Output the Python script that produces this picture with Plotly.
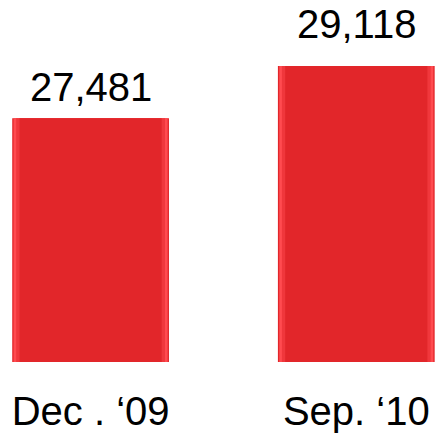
import plotly.graph_objects as go

categories = ["Dec . \u201809", "Sep. \u201810"]
values = [27481, 29118]
value_labels = ["27,481", "29,118"]

BAR_COLOR = "#E2262A"
FONT = "Liberation Sans, Arial, sans-serif"

# layered bars to mimic bevelled edges: (width, colour)
layers = [(0.59, BAR_COLOR), (0.58, "#FF4B50"), (0.56, "#F0373C"), (0.535, BAR_COLOR)]

fig = go.Figure()
for w, col in layers:
    fig.add_trace(go.Bar(
        x=categories, y=values, width=w,
        marker=dict(color=col, line=dict(width=0)),
        hoverinfo="skip", showlegend=False,
    ))

label_shift = [7, 18]
for c, v, t, s in zip(categories, values, value_labels, label_shift):
    fig.add_annotation(
        x=c, y=v, text=t, showarrow=False, yanchor="bottom", yshift=s,
        font=dict(family=FONT, size=40, color="#000000"),
    )

fig.update_layout(
    width=436, height=433,
    margin=dict(l=0, r=0, t=0, b=66),
    barmode="overlay",
    plot_bgcolor="white", paper_bgcolor="white",
    xaxis=dict(
        range=[-0.341, 1.30], showgrid=False, zeroline=False, showline=False,
        ticks="outside", ticklen=14, tickcolor="rgba(0,0,0,0)",
        tickfont=dict(family=FONT, size=40, color="#000000"),
        fixedrange=True,
    ),
    yaxis=dict(
        range=[19853, 31187], visible=False, showgrid=False, zeroline=False,
        fixedrange=True,
    ),
)

fig.write_html(
    "out.html",
    config={"displayModeBar": False},
    post_script="document.body.style.margin='0px';document.body.style.overflow='hidden';",
)
